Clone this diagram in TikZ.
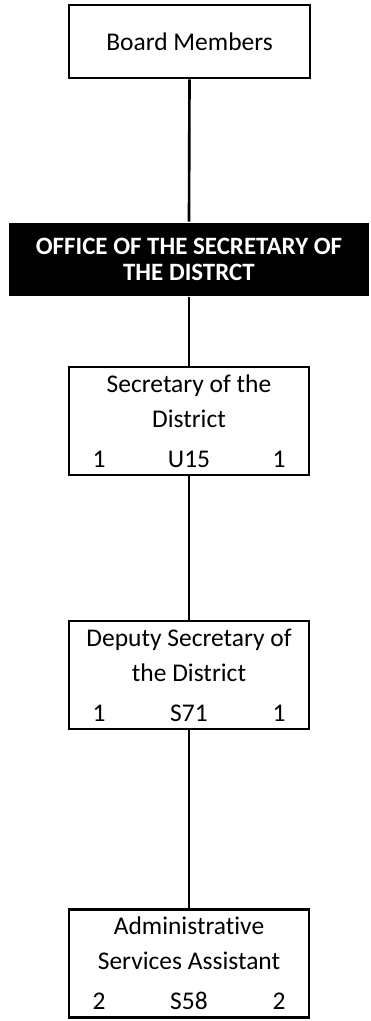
\documentclass[tikz,border=0pt]{standalone}
\usepackage{fontspec}
\setmainfont{Carlito}[Ligatures=NoCommon]
\newcommand\gradeline[3]{\makebox[3.86cm]{#1\hfill#2\hfill#3}}
\begin{document}
\begin{tikzpicture}[x=0.02cm,y=-0.02cm,line width=1.5pt,
    unit/.style={draw,minimum width=4.82cm,minimum height=1.46cm,inner sep=0pt,
      font=\fontsize{14.5}{19.8}\selectfont},
    office/.style={fill=black,text=white,minimum width=7.2cm,minimum height=1.46cm,
      inner sep=0pt,align=center,font=\bfseries\fontsize{14.2}{14.4}\selectfont},
    post/.style={draw,minimum width=4.8cm,minimum height=2.16cm,inner sep=0pt,
      align=center,font=\fontsize{14.5}{19.8}\selectfont}]
  \useasboundingbox (0,0) rectangle (371,1021);

  \node[unit] (board) at (189.5,41.5) {Board Members};
  \node[office] (office) at (189,259.5) {OFFICE OF THE SECRETARY OF\\THE DISTRCT};
  \node[post] (sec) at (189,421) {Secretary of the\\District\\[3pt]\gradeline{1}{U15}{1}};
  \node[post] (dep) at (189,675) {Deputy Secretary of\\the District\\[3pt]\gradeline{1}{S71}{1}};
  \node[post] (asst) at (189,963.5) {Administrative\\Services Assistant\\[3pt]\gradeline{2}{S58}{2}};

  \draw (board.south) -- (office.north);
  \draw (office.south) -- (sec.north);
  \draw (sec.south) -- (dep.north);
  \draw (dep.south) -- (asst.north);
\end{tikzpicture}
\end{document}
